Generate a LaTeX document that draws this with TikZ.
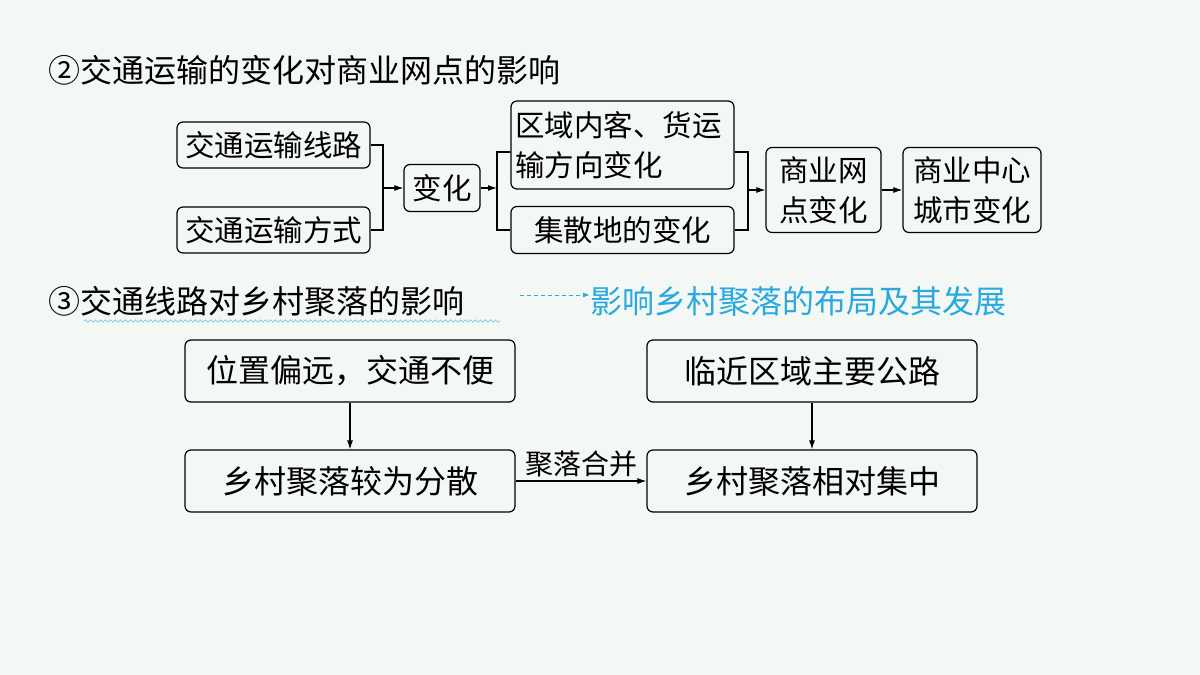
\documentclass[tikz,border=0pt]{standalone}
\usepackage{fontspec}
\setmainfont{Noto Sans CJK SC}
\usetikzlibrary{decorations.pathmorphing,arrows.meta}
\definecolor{bg}{RGB}{244,248,244}
\definecolor{cy}{RGB}{41,169,224}
\begin{document}
\begin{tikzpicture}[x=1pt,y=-1pt,
  bx/.style={draw,line width=1.2pt,rounded corners=6pt,inner sep=0pt},
  ln/.style={line width=1.1pt},
  ar/.style={ln,-{Latex[length=9pt,width=6pt]}},
  t/.style={font=\fontsize{32}{38}\selectfont},
  tm/.style={font=\fontsize{32}{38}\selectfont},
  tb/.style={font=\fontsize{29.5}{40}\selectfont}]
\fill[bg] (0,0) rectangle (1200,675);
\useasboundingbox (0,0) rectangle (1200,675);
\node[t,anchor=west,inner sep=0pt] (t2) at (48,70) {②交通运输的变化对商业网点的影响};
\node[bx,tb,minimum width=193pt,minimum height=46pt] (a1) at (273.5,145) {交通运输线路};
\node[bx,tb,minimum width=193pt,minimum height=46pt] (a2) at (273.5,230) {交通运输方式};
\node[bx,tb,minimum width=76pt,minimum height=47pt] (b) at (442,188) {变化};
\node[bx,tb,minimum width=223pt,minimum height=88pt,align=left,text width=215pt] (c1) at (622.5,145) {区域内客、货运\\输方向变化};
\node[bx,tb,minimum width=223pt,minimum height=47pt] (c2) at (622.5,230) {集散地的变化};
\node[bx,tb,minimum width=115pt,minimum height=85pt,align=center] (d) at (823.5,190) {商业网\\点变化};
\node[bx,tb,minimum width=138pt,minimum height=85pt,align=center] (e) at (972,190) {商业中心\\城市变化};
\coordinate (j1) at (383,188);
\draw[ln] (a1.east) -- (383,145) -- (383,230) -- (a2.east);
\draw[ar] (j1) -- (b.west);
\coordinate (j2) at (497,188);
\draw[ar] (b.east) -- (j2);
\draw[ln] (c1.west|-0,152) -- (497,152) -- (497,230) -- (c2.west);
\draw[ln] (c1.east|-0,152) -- (748,152) -- (748,230) -- (c2.east);
\coordinate (j3) at (748,190);
\draw[ar] (j3) -- (d.west);
\draw[ar] (d.east) -- (e.west);
\node[t,anchor=west,inner sep=0pt] (t3) at (48,301) {③交通线路对乡村聚落的影响};
\draw[cy!70,line width=0.6pt,decorate,decoration={snake,amplitude=1.2pt,segment length=5pt}] (84,321) -- (500,321);
\node[t,anchor=west,text=cy,inner sep=0pt] (t4) at (590,301) {影响乡村聚落的布局及其发展};
\coordinate (k) at (520,295);
\draw[line width=1pt,cy,dash pattern=on 4pt off 3pt,-{Latex[length=7pt,width=5pt]}] (k) -- (t4.west|-k);
\node[bx,tm,minimum width=330pt,minimum height=62pt] (f1) at (350,371) {位置偏远，交通不便};
\node[bx,tm,minimum width=330pt,minimum height=62pt] (f2) at (350,481) {乡村聚落较为分散};
\node[bx,tm,minimum width=330pt,minimum height=62pt] (g1) at (812,371) {临近区域主要公路};
\node[bx,tm,minimum width=330pt,minimum height=62pt] (g2) at (812,481) {乡村聚落相对集中};
\draw[ar] (f1) -- (f2);
\draw[ar] (g1) -- (g2);
\draw[ar] (f2) -- node[above,font=\fontsize{28}{30}\selectfont,inner sep=3pt] {聚落合并} (g2);
\end{tikzpicture}
\end{document}
